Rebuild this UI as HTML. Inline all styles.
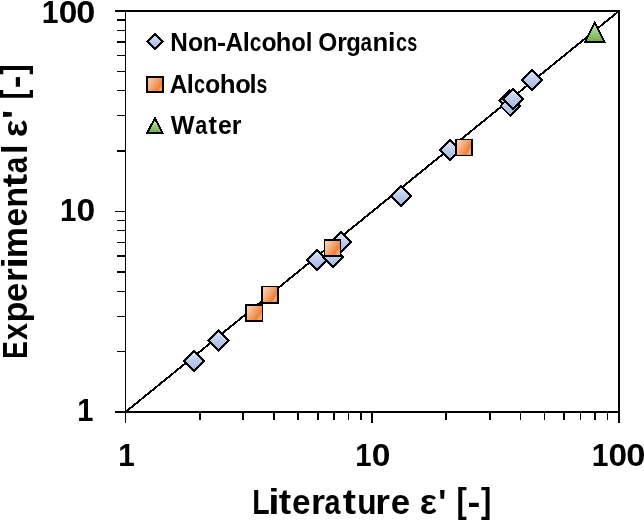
<!DOCTYPE html>
<html><head><meta charset="utf-8">
<style>
html,body{margin:0;padding:0;background:#fff;}
body{width:644px;height:521px;overflow:hidden;}
svg{display:block;}
text{font-family:"Liberation Sans",sans-serif;font-weight:bold;fill:#000;}
</style></head>
<body>
<svg width="644" height="521" viewBox="0 0 644 521">
<defs>
<linearGradient id="gb" x1="0" y1="0" x2="0" y2="1">
<stop offset="0" stop-color="#e4ebf8"/>
<stop offset="0.5" stop-color="#bccbec"/>
<stop offset="1" stop-color="#a2b7e3"/>
</linearGradient>
<linearGradient id="go" x1="0" y1="0" x2="1" y2="0.61">
<stop offset="0" stop-color="#fad6bd"/>
<stop offset="0.4" stop-color="#f5b387"/>
<stop offset="0.7" stop-color="#f19355"/>
<stop offset="0.86" stop-color="#ee7f35"/>
<stop offset="1" stop-color="#f4a670"/>
</linearGradient>
<linearGradient id="gg" x1="0" y1="0" x2="0" y2="1">
<stop offset="0" stop-color="#d3ebc3"/>
<stop offset="0.5" stop-color="#9ccb7e"/>
<stop offset="1" stop-color="#6fae48"/>
</linearGradient>
<path id="dm" d="M0,-9.9 L9.9,0 L0,9.9 L-9.9,0 Z" fill="url(#gb)" stroke="#000" stroke-width="2" stroke-linejoin="miter" shape-rendering="crispEdges"/>
<rect id="sq" x="-8" y="-8" width="16" height="16" fill="url(#go)" stroke="#000" stroke-width="2"/>
</defs>

<!-- plot frame -->
<g fill="#000" shape-rendering="crispEdges">
<rect x="125" y="10" width="495" height="2"/>
<rect x="618" y="10" width="2" height="403"/>
<rect x="115" y="411" width="505" height="2"/>
<rect x="125" y="10" width="1" height="403"/>
</g>
<!-- ticks -->
<g fill="#000" shape-rendering="crispEdges">
<rect x="115" y="10" width="10" height="2"/>
<rect x="115" y="211" width="10" height="1"/>
<rect x="117" y="19" width="8" height="2"/>
<rect x="117" y="30" width="8" height="1"/>
<rect x="117" y="41" width="8" height="2"/>
<rect x="117" y="55" width="8" height="1"/>
<rect x="117" y="71" width="8" height="1"/>
<rect x="117" y="90" width="8" height="1"/>
<rect x="117" y="115" width="8" height="1"/>
<rect x="117" y="150" width="8" height="2"/>
<rect x="117" y="220" width="8" height="1"/>
<rect x="117" y="230" width="8" height="1"/>
<rect x="117" y="242" width="8" height="1"/>
<rect x="117" y="255" width="8" height="2"/>
<rect x="117" y="271" width="8" height="2"/>
<rect x="117" y="291" width="8" height="1"/>
<rect x="117" y="316" width="8" height="1"/>
<rect x="117" y="351" width="8" height="1"/>
<rect x="199" y="413" width="2" height="7"/>
<rect x="242" y="413" width="2" height="7"/>
<rect x="273" y="413" width="2" height="7"/>
<rect x="297" y="413" width="2" height="7"/>
<rect x="317" y="413" width="2" height="7"/>
<rect x="333" y="413" width="2" height="7"/>
<rect x="348" y="413" width="1" height="7"/>
<rect x="360" y="413" width="2" height="7"/>
<rect x="445" y="413" width="2" height="7"/>
<rect x="489" y="413" width="2" height="7"/>
<rect x="520" y="413" width="1" height="7"/>
<rect x="544" y="413" width="1" height="7"/>
<rect x="563" y="413" width="2" height="7"/>
<rect x="580" y="413" width="1" height="7"/>
<rect x="594" y="413" width="2" height="7"/>
<rect x="607" y="413" width="1" height="7"/>
<rect x="125" y="413" width="1" height="10"/>
<rect x="371" y="413" width="2" height="10"/>
<rect x="618" y="413" width="2" height="10"/>
</g>

<!-- diagonal -->
<line x1="125.5" y1="412" x2="619" y2="11" stroke="#000" stroke-width="2" shape-rendering="crispEdges"/>

<!-- series 1: non-alcohol organics -->
<g>
<use href="#dm" x="194" y="361"/>
<use href="#dm" x="218.4" y="340.4"/>
<use href="#dm" x="316.8" y="260"/>
<use href="#dm" x="341" y="242.3"/>
<use href="#dm" x="333" y="257.2"/>
<use href="#dm" x="401.3" y="196"/>
<use href="#dm" x="450" y="150"/>
<use href="#dm" x="509.5" y="100.5"/>
<use href="#dm" x="510.4" y="106"/>
<use href="#dm" x="513.2" y="99"/>
<use href="#dm" x="532" y="80"/>
</g>
<!-- alcohols -->
<g shape-rendering="crispEdges">
<rect x="245" y="304" width="18" height="18" fill="#000"/><rect x="247" y="306" width="15" height="14" fill="url(#go)"/>
<rect x="261" y="286" width="18" height="17.6" fill="#000"/><rect x="263" y="287" width="14" height="15" fill="url(#go)"/>
<rect x="324" y="239" width="17" height="17.6" fill="#000"/><rect x="325" y="241" width="15" height="14" fill="url(#go)"/>
<rect x="455" y="139" width="18" height="17" fill="#000"/><rect x="457" y="140" width="14" height="15" fill="url(#go)"/>
</g>
<!-- water -->
<path d="M594.8,22.4 L604.6,42 L585,42 Z" fill="url(#gg)" stroke="#000" stroke-width="2" stroke-linejoin="miter" shape-rendering="crispEdges"/>

<!-- legend -->
<path d="M155,34.2 L162.6,41.6 L155,49 L147.4,41.6 Z" fill="url(#gb)" stroke="#000" stroke-width="2" shape-rendering="crispEdges"/>
<rect x="147.1" y="76.9" width="15.8" height="14.9" fill="url(#go)" stroke="#000" stroke-width="2" shape-rendering="crispEdges"/>
<path d="M154.9,118.2 L162.7,133.1 L147.1,133.1 Z" fill="url(#gg)" stroke="#000" stroke-width="2" shape-rendering="crispEdges"/>


<g opacity="0.999">
<text transform="matrix(0.9730,0,0,1.0000,170.27,50.80)" font-size="25.00">N</text>
<text transform="matrix(0.9911,0,0,1.0000,188.03,50.80)" font-size="25.00">o</text>
<text transform="matrix(0.9691,0,0,1.0000,202.70,50.80)" font-size="25.00">n</text>
<text transform="matrix(1.1028,0,0,1.0000,217.12,50.80)" font-size="25.00">-</text>
<text transform="matrix(0.9778,0,0,1.0000,225.49,50.80)" font-size="25.00">A</text>
<text transform="matrix(1.0204,0,0,1.0000,242.72,50.80)" font-size="25.00">l</text>
<text transform="matrix(0.8364,0,0,1.0000,249.78,50.80)" font-size="25.00">c</text>
<text transform="matrix(0.9911,0,0,1.0000,261.43,50.80)" font-size="25.00">o</text>
<text transform="matrix(1.0188,0,0,1.0000,275.82,50.80)" font-size="25.00">h</text>
<text transform="matrix(0.9536,0,0,1.0000,291.27,50.80)" font-size="25.00">o</text>
<text transform="matrix(0.9620,0,0,1.0000,305.82,50.80)" font-size="25.00">l</text>
<text transform="matrix(0.9787,0,0,1.0000,318.20,50.80)" font-size="25.00">O</text>
<text transform="matrix(0.9867,0,0,1.0000,337.27,50.80)" font-size="25.00">r</text>
<text transform="matrix(0.9544,0,0,1.0000,346.32,50.80)" font-size="25.00">g</text>
<text transform="matrix(0.8252,0,0,1.0000,360.40,50.80)" font-size="25.00">a</text>
<text transform="matrix(1.0271,0,0,1.0000,372.61,50.80)" font-size="25.00">n</text>
<text transform="matrix(1.0787,0,0,1.0000,388.12,50.80)" font-size="25.00">i</text>
<text transform="matrix(0.7954,0,0,1.0000,396.02,50.80)" font-size="25.00">c</text>
<text transform="matrix(0.7167,0,0,1.0000,407.37,50.80)" font-size="25.00">s</text>
<text transform="matrix(0.9718,0,0,1.0000,169.69,92.70)" font-size="25.00">A</text>
<text transform="matrix(1.0204,0,0,1.0000,186.82,92.70)" font-size="25.00">l</text>
<text transform="matrix(0.7954,0,0,1.0000,194.02,92.70)" font-size="25.00">c</text>
<text transform="matrix(0.9987,0,0,1.0000,205.02,92.70)" font-size="25.00">o</text>
<text transform="matrix(1.0355,0,0,1.0000,219.69,92.70)" font-size="25.00">h</text>
<text transform="matrix(1.0212,0,0,1.0000,235.20,92.70)" font-size="25.00">o</text>
<text transform="matrix(1.0204,0,0,1.0000,249.62,92.70)" font-size="25.00">l</text>
<text transform="matrix(0.7750,0,0,1.0000,256.52,92.70)" font-size="25.00">s</text>
<text transform="matrix(1.0065,0,0,1.0000,170.68,133.60)" font-size="25.00">W</text>
<text transform="matrix(0.8627,0,0,1.0000,195.37,133.60)" font-size="25.00">a</text>
<text transform="matrix(1.0110,0,0,1.0000,208.59,133.60)" font-size="25.00">t</text>
<text transform="matrix(0.9940,0,0,1.0000,218.03,133.60)" font-size="25.00">e</text>
<text transform="matrix(0.9997,0,0,1.0000,231.75,133.60)" font-size="25.00">r</text>
<text transform="matrix(0.9521,0,0,1.0000,41.80,22.50)" font-size="31.60">1</text>
<text transform="matrix(1.0580,0,0,1.0000,58.68,22.50)" font-size="31.60">0</text>
<text transform="matrix(1.0846,0,0,1.0000,76.34,22.50)" font-size="31.60">0</text>
<text transform="matrix(0.9317,0,0,1.0000,59.95,220.80)" font-size="31.60">1</text>
<text transform="matrix(1.0646,0,0,1.0000,76.57,220.80)" font-size="31.60">0</text>
<text transform="matrix(0.9181,0,0,1.0000,77.37,420.70)" font-size="31.60">1</text>
<text transform="matrix(0.9385,0,0,1.0000,118.13,465.80)" font-size="31.60">1</text>
<text transform="matrix(0.9317,0,0,1.0000,355.25,465.80)" font-size="31.60">1</text>
<text transform="matrix(1.0646,0,0,1.0000,371.87,465.80)" font-size="31.60">0</text>
<text transform="matrix(0.9521,0,0,1.0000,591.70,465.80)" font-size="31.60">1</text>
<text transform="matrix(1.0580,0,0,1.0000,608.58,465.80)" font-size="31.60">0</text>
<text transform="matrix(1.0913,0,0,1.0000,626.24,465.80)" font-size="31.60">0</text>
<text transform="matrix(0.7925,0,0,1.0000,252.20,513.70)" font-size="35.90">L</text>
<text transform="matrix(1.1369,0,0,1.0000,268.15,513.70)" font-size="35.90">i</text>
<text transform="matrix(1.0380,0,0,1.0000,278.75,513.70)" font-size="35.90">t</text>
<text transform="matrix(0.9287,0,0,1.0000,292.00,513.70)" font-size="35.90">e</text>
<text transform="matrix(1.0035,0,0,1.0000,311.03,513.70)" font-size="35.90">r</text>
<text transform="matrix(0.7993,0,0,1.0000,324.46,513.70)" font-size="35.90">a</text>
<text transform="matrix(1.1103,0,0,1.0000,342.71,513.70)" font-size="35.90">t</text>
<text transform="matrix(0.8825,0,0,1.0000,357.14,513.70)" font-size="35.90">u</text>
<text transform="matrix(1.0487,0,0,1.0000,375.22,513.70)" font-size="35.90">r</text>
<text transform="matrix(0.9691,0,0,1.0000,390.74,513.70)" font-size="35.90">e</text>
<text transform="matrix(1.0126,0,0,1.0000,419.63,513.70)" font-size="35.90">ε</text>
<text transform="matrix(0.9438,0,0,1.0000,438.20,513.70)" font-size="35.90">&#39;</text>
<text transform="matrix(0.8631,0,0,0.9802,456.56,512.50)" font-size="35.90">[</text>
<text transform="matrix(1.0751,0,0,1.0000,467.49,513.70)" font-size="35.90">-</text>
<text transform="matrix(0.8631,0,0,0.9802,481.02,512.50)" font-size="35.90">]</text>
<text transform="matrix(0,-0.7410,1.0000,0,26.80,358.76)" font-size="35.60">E</text>
<text transform="matrix(0,-0.8551,1.0000,0,26.80,340.11)" font-size="35.60">x</text>
<text transform="matrix(0,-0.9644,1.0000,0,26.80,322.46)" font-size="35.60">p</text>
<text transform="matrix(0,-0.9656,1.0000,0,26.80,301.94)" font-size="35.60">e</text>
<text transform="matrix(0,-0.9937,1.0000,0,26.80,281.93)" font-size="35.60">r</text>
<text transform="matrix(0,-1.1465,1.0000,0,26.80,268.45)" font-size="35.60">i</text>
<text transform="matrix(0,-0.9852,1.0000,0,26.80,258.21)" font-size="35.60">m</text>
<text transform="matrix(0,-0.9481,1.0000,0,26.80,226.42)" font-size="35.60">e</text>
<text transform="matrix(0,-0.9656,1.0000,0,26.80,207.87)" font-size="35.60">n</text>
<text transform="matrix(0,-1.1378,1.0000,0,26.80,187.19)" font-size="35.60">t</text>
<text transform="matrix(0,-0.8271,1.0000,0,26.80,173.26)" font-size="35.60">a</text>
<text transform="matrix(0,-0.9622,1.0000,0,26.80,154.09)" font-size="35.60">l</text>
<text transform="matrix(0,-1.0478,1.0000,0,26.80,137.20)" font-size="35.60">ε</text>
<text transform="matrix(0,-1.0787,1.0000,0,26.80,118.94)" font-size="35.60">&#39;</text>
<text transform="matrix(0,-0.8385,0.9975,0,25.73,99.48)" font-size="35.60">[</text>
<text transform="matrix(0,-1.0731,1.0000,0,26.80,88.19)" font-size="35.60">-</text>
<text transform="matrix(0,-0.8810,0.9975,0,25.73,74.68)" font-size="35.60">]</text>
</g>
</svg>
</body></html>
